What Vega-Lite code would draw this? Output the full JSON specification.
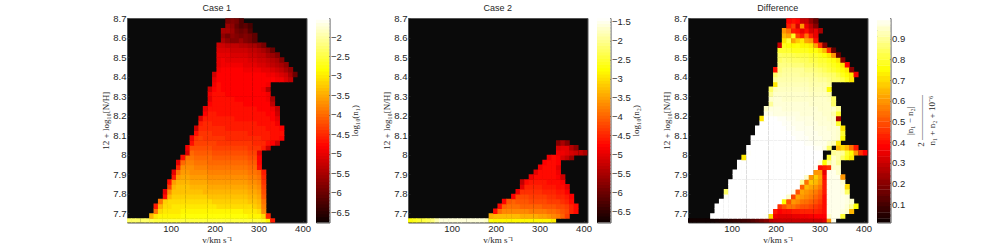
{"$schema":"https://vega.github.io/schema/vega-lite/v6.json","background":"white","bounds":"flush","padding":{"left":101,"top":3,"right":0,"bottom":0},"spacing":9,"resolve":{"scale":{"color":"independent"}},"config":{"font":"Liberation Sans","view":{"stroke":"#555555"},"axis":{"grid":false,"labelFont":"Liberation Sans","labelFontSize":9.5,"labelColor":"#262626","tickColor":"#333333","domain":false,"tickSize":-2,"tickWidth":0.6,"labelPadding":3,"titleColor":"#262626","titleFont":"Liberation Serif","titleFontSize":9,"titleFontWeight":"normal","titlePadding":2},"title":{"font":"Liberation Sans","fontSize":9,"fontWeight":"normal","color":"#262626","offset":0,"dy":4,"anchor":"middle"}},
"datasets":{
"a":[
{"v":6,"z":7.66,"c":-2.3},{"v":16,"z":7.66,"c":-2.3},{"v":26,"z":7.66,"c":-2.3},{"v":37,"z":7.66,"c":-2.3},{"v":47,"z":7.66,"c":-2.3},{"v":57,"z":7.66,"c":-2.4},{"v":67,"z":7.66,"c":-2.5},{"v":77,"z":7.66,"c":-2.5},{"v":88,"z":7.66,"c":-2.5},{"v":98,"z":7.66,"c":-2.5},{"v":108,"z":7.66,"c":-2.5},{"v":118,"z":7.66,"c":-2.5},{"v":128,"z":7.66,"c":-2.5},{"v":139,"z":7.66,"c":-2.5},{"v":149,"z":7.66,"c":-2.5},{"v":159,"z":7.66,"c":-2.5},{"v":169,"z":7.66,"c":-2.5},{"v":179,"z":7.66,"c":-2.5},{"v":190,"z":7.66,"c":-2.5},{"v":200,"z":7.66,"c":-2.5},{"v":210,"z":7.66,"c":-2.5},{"v":220,"z":7.66,"c":-2.5},{"v":230,"z":7.66,"c":-2.5},{"v":241,"z":7.66,"c":-2.5},{"v":251,"z":7.66,"c":-2.5},{"v":261,"z":7.66,"c":-2.5},{"v":271,"z":7.66,"c":-2.5},{"v":281,"z":7.66,"c":-2.5},{"v":292,"z":7.66,"c":-2.5},{"v":302,"z":7.66,"c":-2.5},{"v":312,"z":7.66,"c":-2.6},{"v":322,"z":7.66,"c":-2.9},{"v":332,"z":7.66,"c":-4.6},
{"v":57,"z":7.685,"c":-3.4},{"v":67,"z":7.685,"c":-3},{"v":77,"z":7.685,"c":-2.9},{"v":88,"z":7.685,"c":-2.9},{"v":98,"z":7.685,"c":-2.9},{"v":108,"z":7.685,"c":-2.9},{"v":118,"z":7.685,"c":-2.9},{"v":128,"z":7.685,"c":-2.8},{"v":139,"z":7.685,"c":-2.8},{"v":149,"z":7.685,"c":-2.8},{"v":159,"z":7.685,"c":-2.8},{"v":169,"z":7.685,"c":-2.8},{"v":179,"z":7.685,"c":-2.8},{"v":190,"z":7.685,"c":-2.8},{"v":200,"z":7.685,"c":-2.8},{"v":210,"z":7.685,"c":-2.8},{"v":220,"z":7.685,"c":-2.8},{"v":230,"z":7.685,"c":-2.8},{"v":241,"z":7.685,"c":-2.8},{"v":251,"z":7.685,"c":-2.8},{"v":261,"z":7.685,"c":-2.8},{"v":271,"z":7.685,"c":-2.8},{"v":281,"z":7.685,"c":-2.9},{"v":292,"z":7.685,"c":-2.9},{"v":302,"z":7.685,"c":-2.9},{"v":312,"z":7.685,"c":-3.1},{"v":322,"z":7.685,"c":-4.5},
{"v":67,"z":7.71,"c":-3.9},{"v":77,"z":7.71,"c":-3.1},{"v":88,"z":7.71,"c":-3},{"v":98,"z":7.71,"c":-3},{"v":108,"z":7.71,"c":-3},{"v":118,"z":7.71,"c":-3},{"v":128,"z":7.71,"c":-2.9},{"v":139,"z":7.71,"c":-2.9},{"v":149,"z":7.71,"c":-2.9},{"v":159,"z":7.71,"c":-2.9},{"v":169,"z":7.71,"c":-2.9},{"v":179,"z":7.71,"c":-2.9},{"v":190,"z":7.71,"c":-2.9},{"v":200,"z":7.71,"c":-2.9},{"v":210,"z":7.71,"c":-2.9},{"v":220,"z":7.71,"c":-2.9},{"v":230,"z":7.71,"c":-2.9},{"v":241,"z":7.71,"c":-2.9},{"v":251,"z":7.71,"c":-2.9},{"v":261,"z":7.71,"c":-2.9},{"v":271,"z":7.71,"c":-3},{"v":281,"z":7.71,"c":-3},{"v":292,"z":7.71,"c":-3},{"v":302,"z":7.71,"c":-3.1},{"v":312,"z":7.71,"c":-3.7},
{"v":67,"z":7.735,"c":-4.6},{"v":77,"z":7.735,"c":-3.4},{"v":88,"z":7.735,"c":-3.1},{"v":98,"z":7.735,"c":-3.1},{"v":108,"z":7.735,"c":-3},{"v":118,"z":7.735,"c":-3},{"v":128,"z":7.735,"c":-3},{"v":139,"z":7.735,"c":-3},{"v":149,"z":7.735,"c":-3},{"v":159,"z":7.735,"c":-3},{"v":169,"z":7.735,"c":-3},{"v":179,"z":7.735,"c":-3},{"v":190,"z":7.735,"c":-3},{"v":200,"z":7.735,"c":-3},{"v":210,"z":7.735,"c":-3.1},{"v":220,"z":7.735,"c":-3.1},{"v":230,"z":7.735,"c":-3.1},{"v":241,"z":7.735,"c":-3.1},{"v":251,"z":7.735,"c":-3.1},{"v":261,"z":7.735,"c":-3.1},{"v":271,"z":7.735,"c":-3.1},{"v":281,"z":7.735,"c":-3.1},{"v":292,"z":7.735,"c":-3.2},{"v":302,"z":7.735,"c":-3.3},{"v":312,"z":7.735,"c":-3.8},
{"v":77,"z":7.76,"c":-3.9},{"v":88,"z":7.76,"c":-3.2},{"v":98,"z":7.76,"c":-3.1},{"v":108,"z":7.76,"c":-3.1},{"v":118,"z":7.76,"c":-3.1},{"v":128,"z":7.76,"c":-3.1},{"v":139,"z":7.76,"c":-3.1},{"v":149,"z":7.76,"c":-3.1},{"v":159,"z":7.76,"c":-3.1},{"v":169,"z":7.76,"c":-3.1},{"v":179,"z":7.76,"c":-3.1},{"v":190,"z":7.76,"c":-3.1},{"v":200,"z":7.76,"c":-3.2},{"v":210,"z":7.76,"c":-3.2},{"v":220,"z":7.76,"c":-3.2},{"v":230,"z":7.76,"c":-3.2},{"v":241,"z":7.76,"c":-3.2},{"v":251,"z":7.76,"c":-3.2},{"v":261,"z":7.76,"c":-3.2},{"v":271,"z":7.76,"c":-3.2},{"v":281,"z":7.76,"c":-3.3},{"v":292,"z":7.76,"c":-3.3},{"v":302,"z":7.76,"c":-3.4},{"v":312,"z":7.76,"c":-3.9},
{"v":88,"z":7.785,"c":-4.7},{"v":98,"z":7.785,"c":-3.4},{"v":108,"z":7.785,"c":-3.2},{"v":118,"z":7.785,"c":-3.2},{"v":128,"z":7.785,"c":-3.2},{"v":139,"z":7.785,"c":-3.2},{"v":149,"z":7.785,"c":-3.2},{"v":159,"z":7.785,"c":-3.2},{"v":169,"z":7.785,"c":-3.2},{"v":179,"z":7.785,"c":-3.2},{"v":190,"z":7.785,"c":-3.3},{"v":200,"z":7.785,"c":-3.3},{"v":210,"z":7.785,"c":-3.3},{"v":220,"z":7.785,"c":-3.3},{"v":230,"z":7.785,"c":-3.3},{"v":241,"z":7.785,"c":-3.3},{"v":251,"z":7.785,"c":-3.3},{"v":261,"z":7.785,"c":-3.3},{"v":271,"z":7.785,"c":-3.3},{"v":281,"z":7.785,"c":-3.4},{"v":292,"z":7.785,"c":-3.4},{"v":302,"z":7.785,"c":-3.5},{"v":312,"z":7.785,"c":-4.1},
{"v":88,"z":7.81,"c":-5},{"v":98,"z":7.81,"c":-3.7},{"v":108,"z":7.81,"c":-3.3},{"v":118,"z":7.81,"c":-3.3},{"v":128,"z":7.81,"c":-3.3},{"v":139,"z":7.81,"c":-3.3},{"v":149,"z":7.81,"c":-3.3},{"v":159,"z":7.81,"c":-3.3},{"v":169,"z":7.81,"c":-3.3},{"v":179,"z":7.81,"c":-3.4},{"v":190,"z":7.81,"c":-3.4},{"v":200,"z":7.81,"c":-3.4},{"v":210,"z":7.81,"c":-3.4},{"v":220,"z":7.81,"c":-3.4},{"v":230,"z":7.81,"c":-3.4},{"v":241,"z":7.81,"c":-3.4},{"v":251,"z":7.81,"c":-3.4},{"v":261,"z":7.81,"c":-3.4},{"v":271,"z":7.81,"c":-3.4},{"v":281,"z":7.81,"c":-3.5},{"v":292,"z":7.81,"c":-3.5},{"v":302,"z":7.81,"c":-3.6},{"v":312,"z":7.81,"c":-4.2},
{"v":98,"z":7.835,"c":-4.3},{"v":108,"z":7.835,"c":-3.4},{"v":118,"z":7.835,"c":-3.3},{"v":128,"z":7.835,"c":-3.3},{"v":139,"z":7.835,"c":-3.3},{"v":149,"z":7.835,"c":-3.4},{"v":159,"z":7.835,"c":-3.4},{"v":169,"z":7.835,"c":-3.4},{"v":179,"z":7.835,"c":-3.4},{"v":190,"z":7.835,"c":-3.5},{"v":200,"z":7.835,"c":-3.5},{"v":210,"z":7.835,"c":-3.5},{"v":220,"z":7.835,"c":-3.5},{"v":230,"z":7.835,"c":-3.5},{"v":241,"z":7.835,"c":-3.5},{"v":251,"z":7.835,"c":-3.5},{"v":261,"z":7.835,"c":-3.5},{"v":271,"z":7.835,"c":-3.5},{"v":281,"z":7.835,"c":-3.6},{"v":292,"z":7.835,"c":-3.6},{"v":302,"z":7.835,"c":-3.7},{"v":312,"z":7.835,"c":-4.3},
{"v":98,"z":7.86,"c":-4.7},{"v":108,"z":7.86,"c":-3.6},{"v":118,"z":7.86,"c":-3.4},{"v":128,"z":7.86,"c":-3.4},{"v":139,"z":7.86,"c":-3.4},{"v":149,"z":7.86,"c":-3.5},{"v":159,"z":7.86,"c":-3.5},{"v":169,"z":7.86,"c":-3.5},{"v":179,"z":7.86,"c":-3.5},{"v":190,"z":7.86,"c":-3.6},{"v":200,"z":7.86,"c":-3.6},{"v":210,"z":7.86,"c":-3.6},{"v":220,"z":7.86,"c":-3.6},{"v":230,"z":7.86,"c":-3.6},{"v":241,"z":7.86,"c":-3.6},{"v":251,"z":7.86,"c":-3.6},{"v":261,"z":7.86,"c":-3.6},{"v":271,"z":7.86,"c":-3.6},{"v":281,"z":7.86,"c":-3.7},{"v":292,"z":7.86,"c":-3.7},{"v":302,"z":7.86,"c":-3.8},{"v":312,"z":7.86,"c":-4.4},
{"v":108,"z":7.885,"c":-4.6},{"v":118,"z":7.885,"c":-3.6},{"v":128,"z":7.885,"c":-3.5},{"v":139,"z":7.885,"c":-3.5},{"v":149,"z":7.885,"c":-3.6},{"v":159,"z":7.885,"c":-3.6},{"v":169,"z":7.885,"c":-3.6},{"v":179,"z":7.885,"c":-3.6},{"v":190,"z":7.885,"c":-3.7},{"v":200,"z":7.885,"c":-3.7},{"v":210,"z":7.885,"c":-3.7},{"v":220,"z":7.885,"c":-3.7},{"v":230,"z":7.885,"c":-3.7},{"v":241,"z":7.885,"c":-3.7},{"v":251,"z":7.885,"c":-3.7},{"v":261,"z":7.885,"c":-3.7},{"v":271,"z":7.885,"c":-3.7},{"v":281,"z":7.885,"c":-3.8},{"v":292,"z":7.885,"c":-3.8},{"v":302,"z":7.885,"c":-3.9},{"v":312,"z":7.885,"c":-4.5},
{"v":108,"z":7.91,"c":-5},{"v":118,"z":7.91,"c":-3.9},{"v":128,"z":7.91,"c":-3.6},{"v":139,"z":7.91,"c":-3.6},{"v":149,"z":7.91,"c":-3.7},{"v":159,"z":7.91,"c":-3.7},{"v":169,"z":7.91,"c":-3.7},{"v":179,"z":7.91,"c":-3.7},{"v":190,"z":7.91,"c":-3.8},{"v":200,"z":7.91,"c":-3.8},{"v":210,"z":7.91,"c":-3.8},{"v":220,"z":7.91,"c":-3.8},{"v":230,"z":7.91,"c":-3.8},{"v":241,"z":7.91,"c":-3.8},{"v":251,"z":7.91,"c":-3.8},{"v":261,"z":7.91,"c":-3.8},{"v":271,"z":7.91,"c":-3.8},{"v":281,"z":7.91,"c":-3.9},{"v":292,"z":7.91,"c":-3.9},{"v":302,"z":7.91,"c":-4},{"v":312,"z":7.91,"c":-4.6},
{"v":118,"z":7.935,"c":-4.5},{"v":128,"z":7.935,"c":-3.7},{"v":139,"z":7.935,"c":-3.7},{"v":149,"z":7.935,"c":-3.7},{"v":159,"z":7.935,"c":-3.8},{"v":169,"z":7.935,"c":-3.8},{"v":179,"z":7.935,"c":-3.8},{"v":190,"z":7.935,"c":-3.9},{"v":200,"z":7.935,"c":-3.9},{"v":210,"z":7.935,"c":-3.9},{"v":220,"z":7.935,"c":-3.9},{"v":230,"z":7.935,"c":-3.9},{"v":241,"z":7.935,"c":-3.9},{"v":251,"z":7.935,"c":-3.9},{"v":261,"z":7.935,"c":-3.9},{"v":271,"z":7.935,"c":-3.9},{"v":281,"z":7.935,"c":-4},{"v":292,"z":7.935,"c":-4},{"v":302,"z":7.935,"c":-4.7},
{"v":118,"z":7.96,"c":-5},{"v":128,"z":7.96,"c":-4},{"v":139,"z":7.96,"c":-3.8},{"v":149,"z":7.96,"c":-3.8},{"v":159,"z":7.96,"c":-3.9},{"v":169,"z":7.96,"c":-3.9},{"v":179,"z":7.96,"c":-3.9},{"v":190,"z":7.96,"c":-4},{"v":200,"z":7.96,"c":-4},{"v":210,"z":7.96,"c":-4},{"v":220,"z":7.96,"c":-4},{"v":230,"z":7.96,"c":-4},{"v":241,"z":7.96,"c":-4},{"v":251,"z":7.96,"c":-4},{"v":261,"z":7.96,"c":-4},{"v":271,"z":7.96,"c":-4},{"v":281,"z":7.96,"c":-4.1},{"v":292,"z":7.96,"c":-4.1},{"v":302,"z":7.96,"c":-4.8},
{"v":128,"z":7.985,"c":-4.7},{"v":139,"z":7.985,"c":-3.9},{"v":149,"z":7.985,"c":-3.9},{"v":159,"z":7.985,"c":-4},{"v":169,"z":7.985,"c":-4},{"v":179,"z":7.985,"c":-4},{"v":190,"z":7.985,"c":-4},{"v":200,"z":7.985,"c":-4.1},{"v":210,"z":7.985,"c":-4.1},{"v":220,"z":7.985,"c":-4.1},{"v":230,"z":7.985,"c":-4.1},{"v":241,"z":7.985,"c":-4.1},{"v":251,"z":7.985,"c":-4.1},{"v":261,"z":7.985,"c":-4.1},{"v":271,"z":7.985,"c":-4.1},{"v":281,"z":7.985,"c":-4.2},{"v":292,"z":7.985,"c":-4.2},{"v":302,"z":7.985,"c":-4.8},
{"v":139,"z":8.01,"c":-5.1},{"v":149,"z":8.01,"c":-4},{"v":159,"z":8.01,"c":-4.1},{"v":169,"z":8.01,"c":-4.1},{"v":179,"z":8.01,"c":-4.1},{"v":190,"z":8.01,"c":-4.1},{"v":200,"z":8.01,"c":-4.2},{"v":210,"z":8.01,"c":-4.2},{"v":220,"z":8.01,"c":-4.2},{"v":230,"z":8.01,"c":-4.2},{"v":241,"z":8.01,"c":-4.2},{"v":251,"z":8.01,"c":-4.2},{"v":261,"z":8.01,"c":-4.2},{"v":271,"z":8.01,"c":-4.2},{"v":281,"z":8.01,"c":-4.3},{"v":292,"z":8.01,"c":-4.3},{"v":302,"z":8.01,"c":-5},
{"v":139,"z":8.035,"c":-4.9},{"v":149,"z":8.035,"c":-4.2},{"v":159,"z":8.035,"c":-4.2},{"v":169,"z":8.035,"c":-4.2},{"v":179,"z":8.035,"c":-4.2},{"v":190,"z":8.035,"c":-4.2},{"v":200,"z":8.035,"c":-4.3},{"v":210,"z":8.035,"c":-4.3},{"v":220,"z":8.035,"c":-4.3},{"v":230,"z":8.035,"c":-4.3},{"v":241,"z":8.035,"c":-4.3},{"v":251,"z":8.035,"c":-4.3},{"v":261,"z":8.035,"c":-4.3},{"v":271,"z":8.035,"c":-4.3},{"v":281,"z":8.035,"c":-4.4},{"v":292,"z":8.035,"c":-4.4},{"v":302,"z":8.035,"c":-4.4},{"v":312,"z":8.035,"c":-4.6},{"v":322,"z":8.035,"c":-5.2},
{"v":149,"z":8.06,"c":-4.7},{"v":159,"z":8.06,"c":-4.3},{"v":169,"z":8.06,"c":-4.3},{"v":179,"z":8.06,"c":-4.3},{"v":190,"z":8.06,"c":-4.3},{"v":200,"z":8.06,"c":-4.3},{"v":210,"z":8.06,"c":-4.4},{"v":220,"z":8.06,"c":-4.4},{"v":230,"z":8.06,"c":-4.4},{"v":241,"z":8.06,"c":-4.4},{"v":251,"z":8.06,"c":-4.4},{"v":261,"z":8.06,"c":-4.4},{"v":271,"z":8.06,"c":-4.4},{"v":281,"z":8.06,"c":-4.4},{"v":292,"z":8.06,"c":-4.5},{"v":302,"z":8.06,"c":-4.5},{"v":312,"z":8.06,"c":-4.5},{"v":322,"z":8.06,"c":-4.7},{"v":332,"z":8.06,"c":-4.8},{"v":343,"z":8.06,"c":-5.2},
{"v":149,"z":8.085,"c":-4.9},{"v":159,"z":8.085,"c":-4.4},{"v":169,"z":8.085,"c":-4.3},{"v":179,"z":8.085,"c":-4.4},{"v":190,"z":8.085,"c":-4.4},{"v":200,"z":8.085,"c":-4.4},{"v":210,"z":8.085,"c":-4.4},{"v":220,"z":8.085,"c":-4.4},{"v":230,"z":8.085,"c":-4.5},{"v":241,"z":8.085,"c":-4.5},{"v":251,"z":8.085,"c":-4.5},{"v":261,"z":8.085,"c":-4.5},{"v":271,"z":8.085,"c":-4.5},{"v":281,"z":8.085,"c":-4.5},{"v":292,"z":8.085,"c":-4.5},{"v":302,"z":8.085,"c":-4.5},{"v":312,"z":8.085,"c":-4.6},{"v":322,"z":8.085,"c":-4.6},{"v":332,"z":8.085,"c":-4.7},{"v":343,"z":8.085,"c":-4.7},{"v":353,"z":8.085,"c":-4.8},
{"v":159,"z":8.11,"c":-4.7},{"v":169,"z":8.11,"c":-4.4},{"v":179,"z":8.11,"c":-4.4},{"v":190,"z":8.11,"c":-4.4},{"v":200,"z":8.11,"c":-4.5},{"v":210,"z":8.11,"c":-4.5},{"v":220,"z":8.11,"c":-4.5},{"v":230,"z":8.11,"c":-4.5},{"v":241,"z":8.11,"c":-4.5},{"v":251,"z":8.11,"c":-4.5},{"v":261,"z":8.11,"c":-4.5},{"v":271,"z":8.11,"c":-4.5},{"v":281,"z":8.11,"c":-4.6},{"v":292,"z":8.11,"c":-4.6},{"v":302,"z":8.11,"c":-4.6},{"v":312,"z":8.11,"c":-4.6},{"v":322,"z":8.11,"c":-4.6},{"v":332,"z":8.11,"c":-4.7},{"v":343,"z":8.11,"c":-4.7},{"v":353,"z":8.11,"c":-4.7},
{"v":159,"z":8.135,"c":-5.2},{"v":169,"z":8.135,"c":-4.5},{"v":179,"z":8.135,"c":-4.5},{"v":190,"z":8.135,"c":-4.5},{"v":200,"z":8.135,"c":-4.5},{"v":210,"z":8.135,"c":-4.5},{"v":220,"z":8.135,"c":-4.5},{"v":230,"z":8.135,"c":-4.6},{"v":241,"z":8.135,"c":-4.6},{"v":251,"z":8.135,"c":-4.6},{"v":261,"z":8.135,"c":-4.6},{"v":271,"z":8.135,"c":-4.6},{"v":281,"z":8.135,"c":-4.6},{"v":292,"z":8.135,"c":-4.6},{"v":302,"z":8.135,"c":-4.6},{"v":312,"z":8.135,"c":-4.6},{"v":322,"z":8.135,"c":-4.7},{"v":332,"z":8.135,"c":-4.7},{"v":343,"z":8.135,"c":-4.7},{"v":353,"z":8.135,"c":-4.8},
{"v":169,"z":8.16,"c":-4.6},{"v":179,"z":8.16,"c":-4.5},{"v":190,"z":8.16,"c":-4.5},{"v":200,"z":8.16,"c":-4.6},{"v":210,"z":8.16,"c":-4.6},{"v":220,"z":8.16,"c":-4.6},{"v":230,"z":8.16,"c":-4.6},{"v":241,"z":8.16,"c":-4.6},{"v":251,"z":8.16,"c":-4.6},{"v":261,"z":8.16,"c":-4.6},{"v":271,"z":8.16,"c":-4.6},{"v":281,"z":8.16,"c":-4.6},{"v":292,"z":8.16,"c":-4.6},{"v":302,"z":8.16,"c":-4.7},{"v":312,"z":8.16,"c":-4.7},{"v":322,"z":8.16,"c":-4.7},{"v":332,"z":8.16,"c":-4.7},{"v":343,"z":8.16,"c":-4.9},
{"v":169,"z":8.185,"c":-5.1},{"v":179,"z":8.185,"c":-4.6},{"v":190,"z":8.185,"c":-4.6},{"v":200,"z":8.185,"c":-4.6},{"v":210,"z":8.185,"c":-4.6},{"v":220,"z":8.185,"c":-4.6},{"v":230,"z":8.185,"c":-4.6},{"v":241,"z":8.185,"c":-4.6},{"v":251,"z":8.185,"c":-4.7},{"v":261,"z":8.185,"c":-4.7},{"v":271,"z":8.185,"c":-4.7},{"v":281,"z":8.185,"c":-4.7},{"v":292,"z":8.185,"c":-4.7},{"v":302,"z":8.185,"c":-4.7},{"v":312,"z":8.185,"c":-4.7},{"v":322,"z":8.185,"c":-4.7},{"v":332,"z":8.185,"c":-4.8},{"v":343,"z":8.185,"c":-5},
{"v":179,"z":8.21,"c":-4.8},{"v":190,"z":8.21,"c":-4.6},{"v":200,"z":8.21,"c":-4.6},{"v":210,"z":8.21,"c":-4.7},{"v":220,"z":8.21,"c":-4.7},{"v":230,"z":8.21,"c":-4.7},{"v":241,"z":8.21,"c":-4.7},{"v":251,"z":8.21,"c":-4.7},{"v":261,"z":8.21,"c":-4.7},{"v":271,"z":8.21,"c":-4.7},{"v":281,"z":8.21,"c":-4.7},{"v":292,"z":8.21,"c":-4.7},{"v":302,"z":8.21,"c":-4.7},{"v":312,"z":8.21,"c":-4.7},{"v":322,"z":8.21,"c":-4.8},{"v":332,"z":8.21,"c":-4.8},{"v":343,"z":8.21,"c":-5.2},
{"v":179,"z":8.235,"c":-5},{"v":190,"z":8.235,"c":-4.7},{"v":200,"z":8.235,"c":-4.7},{"v":210,"z":8.235,"c":-4.7},{"v":220,"z":8.235,"c":-4.7},{"v":230,"z":8.235,"c":-4.7},{"v":241,"z":8.235,"c":-4.7},{"v":251,"z":8.235,"c":-4.7},{"v":261,"z":8.235,"c":-4.7},{"v":271,"z":8.235,"c":-4.7},{"v":281,"z":8.235,"c":-4.7},{"v":292,"z":8.235,"c":-4.7},{"v":302,"z":8.235,"c":-4.8},{"v":312,"z":8.235,"c":-4.8},{"v":322,"z":8.235,"c":-4.8},{"v":332,"z":8.235,"c":-4.9},{"v":343,"z":8.235,"c":-5.3},
{"v":190,"z":8.26,"c":-4.8},{"v":200,"z":8.26,"c":-4.7},{"v":210,"z":8.26,"c":-4.7},{"v":220,"z":8.26,"c":-4.7},{"v":230,"z":8.26,"c":-4.7},{"v":241,"z":8.26,"c":-4.7},{"v":251,"z":8.26,"c":-4.7},{"v":261,"z":8.26,"c":-4.7},{"v":271,"z":8.26,"c":-4.8},{"v":281,"z":8.26,"c":-4.8},{"v":292,"z":8.26,"c":-4.8},{"v":302,"z":8.26,"c":-4.8},{"v":312,"z":8.26,"c":-4.8},{"v":322,"z":8.26,"c":-4.8},{"v":332,"z":8.26,"c":-5.3},
{"v":190,"z":8.285,"c":-5},{"v":200,"z":8.285,"c":-4.7},{"v":210,"z":8.285,"c":-4.7},{"v":220,"z":8.285,"c":-4.7},{"v":230,"z":8.285,"c":-4.7},{"v":241,"z":8.285,"c":-4.7},{"v":251,"z":8.285,"c":-4.8},{"v":261,"z":8.285,"c":-4.8},{"v":271,"z":8.285,"c":-4.8},{"v":281,"z":8.285,"c":-4.8},{"v":292,"z":8.285,"c":-4.8},{"v":302,"z":8.285,"c":-4.8},{"v":312,"z":8.285,"c":-4.8},{"v":322,"z":8.285,"c":-4.9},{"v":332,"z":8.285,"c":-5.5},
{"v":190,"z":8.31,"c":-4.9},{"v":200,"z":8.31,"c":-4.7},{"v":210,"z":8.31,"c":-4.7},{"v":220,"z":8.31,"c":-4.7},{"v":230,"z":8.31,"c":-4.8},{"v":241,"z":8.31,"c":-4.8},{"v":251,"z":8.31,"c":-4.8},{"v":261,"z":8.31,"c":-4.8},{"v":271,"z":8.31,"c":-4.8},{"v":281,"z":8.31,"c":-4.8},{"v":292,"z":8.31,"c":-4.8},{"v":302,"z":8.31,"c":-4.8},{"v":312,"z":8.31,"c":-4.8},{"v":322,"z":8.31,"c":-4.9},
{"v":190,"z":8.335,"c":-5.2},{"v":200,"z":8.335,"c":-4.8},{"v":210,"z":8.335,"c":-4.7},{"v":220,"z":8.335,"c":-4.8},{"v":230,"z":8.335,"c":-4.8},{"v":241,"z":8.335,"c":-4.8},{"v":251,"z":8.335,"c":-4.8},{"v":261,"z":8.335,"c":-4.8},{"v":271,"z":8.335,"c":-4.8},{"v":281,"z":8.335,"c":-4.8},{"v":292,"z":8.335,"c":-4.8},{"v":302,"z":8.335,"c":-4.8},{"v":312,"z":8.335,"c":-4.9},{"v":322,"z":8.335,"c":-5.4},
{"v":200,"z":8.36,"c":-4.9},{"v":210,"z":8.36,"c":-4.7},{"v":220,"z":8.36,"c":-4.8},{"v":230,"z":8.36,"c":-4.8},{"v":241,"z":8.36,"c":-4.8},{"v":251,"z":8.36,"c":-4.8},{"v":261,"z":8.36,"c":-4.8},{"v":271,"z":8.36,"c":-4.8},{"v":281,"z":8.36,"c":-4.8},{"v":292,"z":8.36,"c":-4.8},{"v":302,"z":8.36,"c":-4.8},{"v":312,"z":8.36,"c":-4.8},{"v":322,"z":8.36,"c":-4.9},
{"v":200,"z":8.385,"c":-5},{"v":210,"z":8.385,"c":-4.8},{"v":220,"z":8.385,"c":-4.8},{"v":230,"z":8.385,"c":-4.8},{"v":241,"z":8.385,"c":-4.8},{"v":251,"z":8.385,"c":-4.8},{"v":261,"z":8.385,"c":-4.8},{"v":271,"z":8.385,"c":-4.8},{"v":281,"z":8.385,"c":-4.8},{"v":292,"z":8.385,"c":-4.8},{"v":302,"z":8.385,"c":-4.8},{"v":312,"z":8.385,"c":-4.8},{"v":322,"z":8.385,"c":-4.8},{"v":332,"z":8.385,"c":-4.8},{"v":343,"z":8.385,"c":-4.9},{"v":353,"z":8.385,"c":-4.9},{"v":363,"z":8.385,"c":-5.1},{"v":373,"z":8.385,"c":-5.3},
{"v":200,"z":8.41,"c":-5.2},{"v":210,"z":8.41,"c":-4.8},{"v":220,"z":8.41,"c":-4.8},{"v":230,"z":8.41,"c":-4.8},{"v":241,"z":8.41,"c":-4.8},{"v":251,"z":8.41,"c":-4.8},{"v":261,"z":8.41,"c":-4.8},{"v":271,"z":8.41,"c":-4.8},{"v":281,"z":8.41,"c":-4.8},{"v":292,"z":8.41,"c":-4.8},{"v":302,"z":8.41,"c":-4.8},{"v":312,"z":8.41,"c":-4.8},{"v":322,"z":8.41,"c":-4.9},{"v":332,"z":8.41,"c":-4.9},{"v":343,"z":8.41,"c":-5},{"v":353,"z":8.41,"c":-5.1},{"v":363,"z":8.41,"c":-5.2},{"v":373,"z":8.41,"c":-5.5},{"v":383,"z":8.41,"c":-6},
{"v":210,"z":8.435,"c":-4.9},{"v":220,"z":8.435,"c":-4.8},{"v":230,"z":8.435,"c":-4.8},{"v":241,"z":8.435,"c":-4.8},{"v":251,"z":8.435,"c":-4.8},{"v":261,"z":8.435,"c":-4.8},{"v":271,"z":8.435,"c":-4.9},{"v":281,"z":8.435,"c":-4.9},{"v":292,"z":8.435,"c":-4.9},{"v":302,"z":8.435,"c":-4.9},{"v":312,"z":8.435,"c":-5},{"v":322,"z":8.435,"c":-5},{"v":332,"z":8.435,"c":-5.1},{"v":343,"z":8.435,"c":-5.2},{"v":353,"z":8.435,"c":-5.3},{"v":363,"z":8.435,"c":-5.5},{"v":373,"z":8.435,"c":-5.7},
{"v":210,"z":8.46,"c":-5},{"v":220,"z":8.46,"c":-4.9},{"v":230,"z":8.46,"c":-4.9},{"v":241,"z":8.46,"c":-4.9},{"v":251,"z":8.46,"c":-4.9},{"v":261,"z":8.46,"c":-4.9},{"v":271,"z":8.46,"c":-5},{"v":281,"z":8.46,"c":-5},{"v":292,"z":8.46,"c":-5},{"v":302,"z":8.46,"c":-5.1},{"v":312,"z":8.46,"c":-5.1},{"v":322,"z":8.46,"c":-5.2},{"v":332,"z":8.46,"c":-5.3},{"v":343,"z":8.46,"c":-5.4},{"v":353,"z":8.46,"c":-5.5},{"v":363,"z":8.46,"c":-5.7},
{"v":210,"z":8.485,"c":-5},{"v":220,"z":8.485,"c":-4.9},{"v":230,"z":8.485,"c":-5},{"v":241,"z":8.485,"c":-5},{"v":251,"z":8.485,"c":-5},{"v":261,"z":8.485,"c":-5},{"v":271,"z":8.485,"c":-5},{"v":281,"z":8.485,"c":-5.1},{"v":292,"z":8.485,"c":-5.1},{"v":302,"z":8.485,"c":-5.2},{"v":312,"z":8.485,"c":-5.2},{"v":322,"z":8.485,"c":-5.3},{"v":332,"z":8.485,"c":-5.4},{"v":343,"z":8.485,"c":-5.5},{"v":353,"z":8.485,"c":-5.8},
{"v":210,"z":8.51,"c":-5},{"v":220,"z":8.51,"c":-5},{"v":230,"z":8.51,"c":-5},{"v":241,"z":8.51,"c":-5.1},{"v":251,"z":8.51,"c":-5.1},{"v":261,"z":8.51,"c":-5.1},{"v":271,"z":8.51,"c":-5.1},{"v":281,"z":8.51,"c":-5.2},{"v":292,"z":8.51,"c":-5.2},{"v":302,"z":8.51,"c":-5.3},{"v":312,"z":8.51,"c":-5.3},{"v":322,"z":8.51,"c":-5.5},{"v":332,"z":8.51,"c":-5.6},{"v":343,"z":8.51,"c":-5.8},
{"v":210,"z":8.535,"c":-5.1},{"v":220,"z":8.535,"c":-5.1},{"v":230,"z":8.535,"c":-5.1},{"v":241,"z":8.535,"c":-5.2},{"v":251,"z":8.535,"c":-5.2},{"v":261,"z":8.535,"c":-5.2},{"v":271,"z":8.535,"c":-5.2},{"v":281,"z":8.535,"c":-5.3},{"v":292,"z":8.535,"c":-5.3},{"v":302,"z":8.535,"c":-5.4},{"v":312,"z":8.535,"c":-5.5},{"v":322,"z":8.535,"c":-5.7},{"v":332,"z":8.535,"c":-6},
{"v":210,"z":8.56,"c":-5.2},{"v":220,"z":8.56,"c":-5.2},{"v":230,"z":8.56,"c":-5.3},{"v":241,"z":8.56,"c":-5.3},{"v":251,"z":8.56,"c":-5.3},{"v":261,"z":8.56,"c":-5.4},{"v":271,"z":8.56,"c":-5.4},{"v":281,"z":8.56,"c":-5.5},{"v":292,"z":8.56,"c":-5.5},{"v":302,"z":8.56,"c":-5.7},{"v":312,"z":8.56,"c":-5.9},
{"v":220,"z":8.585,"c":-5.5},{"v":230,"z":8.585,"c":-5.7},{"v":241,"z":8.585,"c":-5.8},{"v":251,"z":8.585,"c":-5.8},{"v":261,"z":8.585,"c":-5.6},{"v":271,"z":8.585,"c":-5.8},{"v":281,"z":8.585,"c":-5.9},{"v":292,"z":8.585,"c":-6.1},
{"v":220,"z":8.61,"c":-5.7},{"v":230,"z":8.61,"c":-5.9},{"v":241,"z":8.61,"c":-5.7},{"v":251,"z":8.61,"c":-5.8},{"v":261,"z":8.61,"c":-5.9},{"v":271,"z":8.61,"c":-5.8},{"v":281,"z":8.61,"c":-5.9},{"v":292,"z":8.61,"c":-6.1},
{"v":220,"z":8.635,"c":-5.5},{"v":230,"z":8.635,"c":-5.5},{"v":241,"z":8.635,"c":-5.6},{"v":251,"z":8.635,"c":-5.9},{"v":261,"z":8.635,"c":-6},{"v":271,"z":8.635,"c":-5.9},{"v":281,"z":8.635,"c":-6.2},
{"v":230,"z":8.66,"c":-5.6},{"v":241,"z":8.66,"c":-5.7},{"v":251,"z":8.66,"c":-6},{"v":261,"z":8.66,"c":-6.2},{"v":271,"z":8.66,"c":-6.1},{"v":281,"z":8.66,"c":-6.3},
{"v":230,"z":8.685,"c":-5.9},{"v":241,"z":8.685,"c":-5.8},{"v":251,"z":8.685,"c":-5.9},{"v":261,"z":8.685,"c":-6.2}
],
"b":[
{"v":6,"z":7.66,"c":-2.7},{"v":16,"z":7.66,"c":-2.6},{"v":26,"z":7.66,"c":-2.5},{"v":37,"z":7.66,"c":-2.4},{"v":47,"z":7.66,"c":-2.3},{"v":57,"z":7.66,"c":-2.1},{"v":67,"z":7.66,"c":-1.8},{"v":77,"z":7.66,"c":-1.6},{"v":88,"z":7.66,"c":-1.6},{"v":98,"z":7.66,"c":-1.6},{"v":108,"z":7.66,"c":-1.6},{"v":118,"z":7.66,"c":-1.6},{"v":128,"z":7.66,"c":-1.6},{"v":139,"z":7.66,"c":-1.6},{"v":149,"z":7.66,"c":-1.6},{"v":159,"z":7.66,"c":-1.6},{"v":169,"z":7.66,"c":-1.6},{"v":179,"z":7.66,"c":-1.7},{"v":190,"z":7.66,"c":-2.7},{"v":200,"z":7.66,"c":-2.8},{"v":210,"z":7.66,"c":-2.8},{"v":220,"z":7.66,"c":-2.8},{"v":230,"z":7.66,"c":-2.8},{"v":241,"z":7.66,"c":-2.8},{"v":251,"z":7.66,"c":-2.8},{"v":261,"z":7.66,"c":-2.8},{"v":271,"z":7.66,"c":-2.8},{"v":281,"z":7.66,"c":-2.8},{"v":292,"z":7.66,"c":-2.8},{"v":302,"z":7.66,"c":-2.8},{"v":312,"z":7.66,"c":-2.8},{"v":322,"z":7.66,"c":-2.8},{"v":332,"z":7.66,"c":-2.9},
{"v":190,"z":7.685,"c":-3.4},{"v":200,"z":7.685,"c":-3.3},{"v":210,"z":7.685,"c":-3.3},{"v":220,"z":7.685,"c":-3.3},{"v":230,"z":7.685,"c":-3.3},{"v":241,"z":7.685,"c":-3.3},{"v":251,"z":7.685,"c":-3.3},{"v":261,"z":7.685,"c":-3.4},{"v":271,"z":7.685,"c":-3.4},{"v":281,"z":7.685,"c":-3.4},{"v":292,"z":7.685,"c":-3.4},{"v":302,"z":7.685,"c":-3.5},{"v":312,"z":7.685,"c":-3.5},{"v":322,"z":7.685,"c":-3.6},{"v":332,"z":7.685,"c":-3.7},{"v":343,"z":7.685,"c":-3.8},{"v":353,"z":7.685,"c":-4},{"v":363,"z":7.685,"c":-4.3},
{"v":200,"z":7.71,"c":-4.7},{"v":210,"z":7.71,"c":-3.9},{"v":220,"z":7.71,"c":-3.7},{"v":230,"z":7.71,"c":-3.7},{"v":241,"z":7.71,"c":-3.7},{"v":251,"z":7.71,"c":-3.7},{"v":261,"z":7.71,"c":-3.7},{"v":271,"z":7.71,"c":-3.7},{"v":281,"z":7.71,"c":-3.8},{"v":292,"z":7.71,"c":-3.8},{"v":302,"z":7.71,"c":-3.8},{"v":312,"z":7.71,"c":-3.8},{"v":322,"z":7.71,"c":-3.9},{"v":332,"z":7.71,"c":-3.9},{"v":343,"z":7.71,"c":-4},{"v":353,"z":7.71,"c":-4.1},{"v":363,"z":7.71,"c":-4.2},{"v":373,"z":7.71,"c":-4.5},{"v":383,"z":7.71,"c":-4.7},
{"v":210,"z":7.735,"c":-4.7},{"v":220,"z":7.735,"c":-4},{"v":230,"z":7.735,"c":-3.9},{"v":241,"z":7.735,"c":-3.9},{"v":251,"z":7.735,"c":-3.9},{"v":261,"z":7.735,"c":-4},{"v":271,"z":7.735,"c":-4},{"v":281,"z":7.735,"c":-4},{"v":292,"z":7.735,"c":-4},{"v":302,"z":7.735,"c":-4},{"v":312,"z":7.735,"c":-4.1},{"v":322,"z":7.735,"c":-4.1},{"v":332,"z":7.735,"c":-4.1},{"v":343,"z":7.735,"c":-4.2},{"v":353,"z":7.735,"c":-4.2},{"v":363,"z":7.735,"c":-4.3},{"v":373,"z":7.735,"c":-4.5},{"v":383,"z":7.735,"c":-4.7},
{"v":220,"z":7.76,"c":-4.8},{"v":230,"z":7.76,"c":-4.1},{"v":241,"z":7.76,"c":-4},{"v":251,"z":7.76,"c":-4.1},{"v":261,"z":7.76,"c":-4.1},{"v":271,"z":7.76,"c":-4.1},{"v":281,"z":7.76,"c":-4.2},{"v":292,"z":7.76,"c":-4.2},{"v":302,"z":7.76,"c":-4.2},{"v":312,"z":7.76,"c":-4.2},{"v":322,"z":7.76,"c":-4.3},{"v":332,"z":7.76,"c":-4.3},{"v":343,"z":7.76,"c":-4.3},{"v":353,"z":7.76,"c":-4.4},{"v":363,"z":7.76,"c":-4.5},{"v":373,"z":7.76,"c":-4.7},
{"v":241,"z":7.785,"c":-4.8},{"v":251,"z":7.785,"c":-4.2},{"v":261,"z":7.785,"c":-4.2},{"v":271,"z":7.785,"c":-4.2},{"v":281,"z":7.785,"c":-4.3},{"v":292,"z":7.785,"c":-4.3},{"v":302,"z":7.785,"c":-4.3},{"v":312,"z":7.785,"c":-4.3},{"v":322,"z":7.785,"c":-4.4},{"v":332,"z":7.785,"c":-4.4},{"v":343,"z":7.785,"c":-4.5},{"v":353,"z":7.785,"c":-4.5},{"v":363,"z":7.785,"c":-4.6},{"v":373,"z":7.785,"c":-4.8},
{"v":251,"z":7.81,"c":-4.9},{"v":261,"z":7.81,"c":-4.4},{"v":271,"z":7.81,"c":-4.4},{"v":281,"z":7.81,"c":-4.4},{"v":292,"z":7.81,"c":-4.4},{"v":302,"z":7.81,"c":-4.4},{"v":312,"z":7.81,"c":-4.5},{"v":322,"z":7.81,"c":-4.5},{"v":332,"z":7.81,"c":-4.5},{"v":343,"z":7.81,"c":-4.6},{"v":353,"z":7.81,"c":-4.6},{"v":363,"z":7.81,"c":-4.8},
{"v":261,"z":7.835,"c":-5},{"v":271,"z":7.835,"c":-4.5},{"v":281,"z":7.835,"c":-4.5},{"v":292,"z":7.835,"c":-4.5},{"v":302,"z":7.835,"c":-4.5},{"v":312,"z":7.835,"c":-4.6},{"v":322,"z":7.835,"c":-4.6},{"v":332,"z":7.835,"c":-4.6},{"v":343,"z":7.835,"c":-4.7},{"v":353,"z":7.835,"c":-4.7},{"v":363,"z":7.835,"c":-5},
{"v":261,"z":7.86,"c":-5.3},{"v":271,"z":7.86,"c":-4.7},{"v":281,"z":7.86,"c":-4.6},{"v":292,"z":7.86,"c":-4.6},{"v":302,"z":7.86,"c":-4.6},{"v":312,"z":7.86,"c":-4.6},{"v":322,"z":7.86,"c":-4.7},{"v":332,"z":7.86,"c":-4.7},{"v":343,"z":7.86,"c":-4.7},{"v":353,"z":7.86,"c":-4.8},
{"v":281,"z":7.885,"c":-4.9},{"v":292,"z":7.885,"c":-4.7},{"v":302,"z":7.885,"c":-4.7},{"v":312,"z":7.885,"c":-4.7},{"v":322,"z":7.885,"c":-4.7},{"v":332,"z":7.885,"c":-4.7},{"v":343,"z":7.885,"c":-4.8},{"v":353,"z":7.885,"c":-5.2},
{"v":292,"z":7.91,"c":-5},{"v":302,"z":7.91,"c":-4.7},{"v":312,"z":7.91,"c":-4.7},{"v":322,"z":7.91,"c":-4.7},{"v":332,"z":7.91,"c":-4.7},{"v":343,"z":7.91,"c":-4.9},
{"v":302,"z":7.935,"c":-4.9},{"v":312,"z":7.935,"c":-4.7},{"v":322,"z":7.935,"c":-4.7},{"v":332,"z":7.935,"c":-4.7},{"v":343,"z":7.935,"c":-5},
{"v":312,"z":7.96,"c":-4.8},{"v":322,"z":7.96,"c":-4.7},{"v":332,"z":7.96,"c":-4.7},{"v":343,"z":7.96,"c":-4.8},
{"v":322,"z":7.985,"c":-4.9},{"v":332,"z":7.985,"c":-4.7},{"v":343,"z":7.985,"c":-4.8},{"v":353,"z":7.985,"c":-5.1},{"v":363,"z":7.985,"c":-5.3},{"v":373,"z":7.985,"c":-5.6},
{"v":343,"z":8.01,"c":-4.9},{"v":353,"z":8.01,"c":-4.9},{"v":363,"z":8.01,"c":-5},{"v":373,"z":8.01,"c":-5.1},{"v":383,"z":8.01,"c":-5.2},{"v":394,"z":8.01,"c":-5.3},{"v":404,"z":8.01,"c":-5.5},
{"v":343,"z":8.035,"c":-5.1},{"v":353,"z":8.035,"c":-5},{"v":363,"z":8.035,"c":-5},{"v":373,"z":8.035,"c":-5.4},{"v":383,"z":8.035,"c":-5.7},
{"v":343,"z":8.06,"c":-5.8},{"v":353,"z":8.06,"c":-5.5},{"v":363,"z":8.06,"c":-5.8}
],
"d":[
{"v":6,"z":7.66,"c":0.02},{"v":16,"z":7.66,"c":0.02},{"v":26,"z":7.66,"c":0.02},{"v":37,"z":7.66,"c":0.02},{"v":47,"z":7.66,"c":0.02},{"v":57,"z":7.66,"c":0.02},{"v":67,"z":7.66,"c":0.03},{"v":77,"z":7.66,"c":0.04},{"v":88,"z":7.66,"c":0.05},{"v":98,"z":7.66,"c":0.06},{"v":108,"z":7.66,"c":0.07},{"v":118,"z":7.66,"c":0.08},{"v":128,"z":7.66,"c":0.09},{"v":139,"z":7.66,"c":0.1},{"v":149,"z":7.66,"c":0.12},{"v":159,"z":7.66,"c":0.14},{"v":169,"z":7.66,"c":0.17},{"v":179,"z":7.66,"c":0.2},{"v":190,"z":7.66,"c":0.27},{"v":200,"z":7.66,"c":0.29},{"v":210,"z":7.66,"c":0.3},{"v":220,"z":7.66,"c":0.3},{"v":230,"z":7.66,"c":0.3},{"v":241,"z":7.66,"c":0.3},{"v":251,"z":7.66,"c":0.3},{"v":261,"z":7.66,"c":0.3},{"v":271,"z":7.66,"c":0.3},{"v":281,"z":7.66,"c":0.3},{"v":292,"z":7.66,"c":0.3},{"v":302,"z":7.66,"c":0.3},{"v":312,"z":7.66,"c":0.33},{"v":322,"z":7.66,"c":0.6},{"v":332,"z":7.66,"c":0.98},
{"v":57,"z":7.685,"c":1},{"v":67,"z":7.685,"c":1},{"v":77,"z":7.685,"c":1},{"v":88,"z":7.685,"c":1},{"v":98,"z":7.685,"c":1},{"v":108,"z":7.685,"c":1},{"v":118,"z":7.685,"c":1},{"v":128,"z":7.685,"c":1},{"v":139,"z":7.685,"c":1},{"v":149,"z":7.685,"c":1},{"v":159,"z":7.685,"c":1},{"v":169,"z":7.685,"c":1},{"v":179,"z":7.685,"c":0.99},{"v":190,"z":7.685,"c":0.7},{"v":200,"z":7.685,"c":0.36},{"v":210,"z":7.685,"c":0.34},{"v":220,"z":7.685,"c":0.34},{"v":230,"z":7.685,"c":0.34},{"v":241,"z":7.685,"c":0.35},{"v":251,"z":7.685,"c":0.35},{"v":261,"z":7.685,"c":0.36},{"v":271,"z":7.685,"c":0.36},{"v":281,"z":7.685,"c":0.37},{"v":292,"z":7.685,"c":0.38},{"v":302,"z":7.685,"c":0.38},{"v":312,"z":7.685,"c":0.38},{"v":322,"z":7.685,"c":0.95},{"v":332,"z":7.685,"c":0.98},{"v":343,"z":7.685,"c":0.98},{"v":353,"z":7.685,"c":0.8},
{"v":67,"z":7.71,"c":1},{"v":77,"z":7.71,"c":1},{"v":88,"z":7.71,"c":1},{"v":98,"z":7.71,"c":1},{"v":108,"z":7.71,"c":1},{"v":118,"z":7.71,"c":1},{"v":128,"z":7.71,"c":1},{"v":139,"z":7.71,"c":1},{"v":149,"z":7.71,"c":1},{"v":159,"z":7.71,"c":1},{"v":169,"z":7.71,"c":1},{"v":179,"z":7.71,"c":1},{"v":190,"z":7.71,"c":1},{"v":200,"z":7.71,"c":0.42},{"v":210,"z":7.71,"c":0.38},{"v":220,"z":7.71,"c":0.4},{"v":230,"z":7.71,"c":0.4},{"v":241,"z":7.71,"c":0.42},{"v":251,"z":7.71,"c":0.42},{"v":261,"z":7.71,"c":0.43},{"v":271,"z":7.71,"c":0.43},{"v":281,"z":7.71,"c":0.43},{"v":292,"z":7.71,"c":0.43},{"v":302,"z":7.71,"c":0.42},{"v":312,"z":7.71,"c":0.4},{"v":322,"z":7.71,"c":0.98},{"v":332,"z":7.71,"c":0.98},{"v":343,"z":7.71,"c":0.98},{"v":353,"z":7.71,"c":0.97},{"v":363,"z":7.71,"c":0.95},{"v":373,"z":7.71,"c":0.65},
{"v":67,"z":7.735,"c":1},{"v":77,"z":7.735,"c":1},{"v":88,"z":7.735,"c":1},{"v":98,"z":7.735,"c":1},{"v":108,"z":7.735,"c":1},{"v":118,"z":7.735,"c":1},{"v":128,"z":7.735,"c":1},{"v":139,"z":7.735,"c":1},{"v":149,"z":7.735,"c":1},{"v":159,"z":7.735,"c":1},{"v":169,"z":7.735,"c":1},{"v":179,"z":7.735,"c":1},{"v":190,"z":7.735,"c":1},{"v":200,"z":7.735,"c":1},{"v":210,"z":7.735,"c":0.45},{"v":220,"z":7.735,"c":0.5},{"v":230,"z":7.735,"c":0.55},{"v":241,"z":7.735,"c":0.55},{"v":251,"z":7.735,"c":0.52},{"v":261,"z":7.735,"c":0.5},{"v":271,"z":7.735,"c":0.5},{"v":281,"z":7.735,"c":0.48},{"v":292,"z":7.735,"c":0.46},{"v":302,"z":7.735,"c":0.44},{"v":312,"z":7.735,"c":0.4},{"v":322,"z":7.735,"c":0.98},{"v":332,"z":7.735,"c":0.98},{"v":343,"z":7.735,"c":0.98},{"v":353,"z":7.735,"c":0.98},{"v":363,"z":7.735,"c":0.96},{"v":373,"z":7.735,"c":0.9},{"v":383,"z":7.735,"c":0.75},
{"v":77,"z":7.76,"c":1},{"v":88,"z":7.76,"c":1},{"v":98,"z":7.76,"c":1},{"v":108,"z":7.76,"c":1},{"v":118,"z":7.76,"c":1},{"v":128,"z":7.76,"c":1},{"v":139,"z":7.76,"c":1},{"v":149,"z":7.76,"c":1},{"v":159,"z":7.76,"c":1},{"v":169,"z":7.76,"c":1},{"v":179,"z":7.76,"c":1},{"v":190,"z":7.76,"c":1},{"v":200,"z":7.76,"c":1},{"v":210,"z":7.76,"c":1},{"v":220,"z":7.76,"c":0.75},{"v":230,"z":7.76,"c":0.5},{"v":241,"z":7.76,"c":0.6},{"v":251,"z":7.76,"c":0.58},{"v":261,"z":7.76,"c":0.55},{"v":271,"z":7.76,"c":0.54},{"v":281,"z":7.76,"c":0.52},{"v":292,"z":7.76,"c":0.5},{"v":302,"z":7.76,"c":0.47},{"v":312,"z":7.76,"c":0.4},{"v":322,"z":7.76,"c":0.98},{"v":332,"z":7.76,"c":0.98},{"v":343,"z":7.76,"c":0.98},{"v":353,"z":7.76,"c":0.98},{"v":363,"z":7.76,"c":0.97},{"v":373,"z":7.76,"c":0.95},
{"v":88,"z":7.785,"c":0.99},{"v":98,"z":7.785,"c":1},{"v":108,"z":7.785,"c":1},{"v":118,"z":7.785,"c":1},{"v":128,"z":7.785,"c":1},{"v":139,"z":7.785,"c":1},{"v":149,"z":7.785,"c":1},{"v":159,"z":7.785,"c":1},{"v":169,"z":7.785,"c":1},{"v":179,"z":7.785,"c":1},{"v":190,"z":7.785,"c":1},{"v":200,"z":7.785,"c":1},{"v":210,"z":7.785,"c":1},{"v":220,"z":7.785,"c":1},{"v":230,"z":7.785,"c":0.95},{"v":241,"z":7.785,"c":0.48},{"v":251,"z":7.785,"c":0.62},{"v":261,"z":7.785,"c":0.6},{"v":271,"z":7.785,"c":0.58},{"v":281,"z":7.785,"c":0.56},{"v":292,"z":7.785,"c":0.53},{"v":302,"z":7.785,"c":0.5},{"v":312,"z":7.785,"c":0.4},{"v":322,"z":7.785,"c":0.98},{"v":332,"z":7.785,"c":0.98},{"v":343,"z":7.785,"c":0.98},{"v":353,"z":7.785,"c":0.98},{"v":363,"z":7.785,"c":0.97},
{"v":88,"z":7.81,"c":0.85},{"v":98,"z":7.81,"c":1},{"v":108,"z":7.81,"c":1},{"v":118,"z":7.81,"c":1},{"v":128,"z":7.81,"c":1},{"v":139,"z":7.81,"c":1},{"v":149,"z":7.81,"c":1},{"v":159,"z":7.81,"c":1},{"v":169,"z":7.81,"c":1},{"v":179,"z":7.81,"c":1},{"v":190,"z":7.81,"c":1},{"v":200,"z":7.81,"c":1},{"v":210,"z":7.81,"c":1},{"v":220,"z":7.81,"c":1},{"v":230,"z":7.81,"c":1},{"v":241,"z":7.81,"c":0.98},{"v":251,"z":7.81,"c":0.5},{"v":261,"z":7.81,"c":0.62},{"v":271,"z":7.81,"c":0.6},{"v":281,"z":7.81,"c":0.58},{"v":292,"z":7.81,"c":0.56},{"v":302,"z":7.81,"c":0.52},{"v":312,"z":7.81,"c":0.42},{"v":322,"z":7.81,"c":0.98},{"v":332,"z":7.81,"c":0.98},{"v":343,"z":7.81,"c":0.98},{"v":353,"z":7.81,"c":0.97},{"v":363,"z":7.81,"c":0.85},
{"v":98,"z":7.835,"c":1},{"v":108,"z":7.835,"c":1},{"v":118,"z":7.835,"c":1},{"v":128,"z":7.835,"c":1},{"v":139,"z":7.835,"c":1},{"v":149,"z":7.835,"c":1},{"v":159,"z":7.835,"c":1},{"v":169,"z":7.835,"c":1},{"v":179,"z":7.835,"c":1},{"v":190,"z":7.835,"c":1},{"v":200,"z":7.835,"c":1},{"v":210,"z":7.835,"c":1},{"v":220,"z":7.835,"c":1},{"v":230,"z":7.835,"c":1},{"v":241,"z":7.835,"c":1},{"v":251,"z":7.835,"c":1},{"v":261,"z":7.835,"c":0.52},{"v":271,"z":7.835,"c":0.65},{"v":281,"z":7.835,"c":0.62},{"v":292,"z":7.835,"c":0.6},{"v":302,"z":7.835,"c":0.56},{"v":312,"z":7.835,"c":0.42},{"v":322,"z":7.835,"c":0.98},{"v":332,"z":7.835,"c":0.98},{"v":343,"z":7.835,"c":0.98},{"v":353,"z":7.835,"c":0.97},{"v":363,"z":7.835,"c":0.7},
{"v":98,"z":7.86,"c":1},{"v":108,"z":7.86,"c":1},{"v":118,"z":7.86,"c":1},{"v":128,"z":7.86,"c":1},{"v":139,"z":7.86,"c":1},{"v":149,"z":7.86,"c":1},{"v":159,"z":7.86,"c":1},{"v":169,"z":7.86,"c":1},{"v":179,"z":7.86,"c":1},{"v":190,"z":7.86,"c":1},{"v":200,"z":7.86,"c":1},{"v":210,"z":7.86,"c":1},{"v":220,"z":7.86,"c":1},{"v":230,"z":7.86,"c":1},{"v":241,"z":7.86,"c":1},{"v":251,"z":7.86,"c":1},{"v":261,"z":7.86,"c":0.9},{"v":271,"z":7.86,"c":0.55},{"v":281,"z":7.86,"c":0.67},{"v":292,"z":7.86,"c":0.65},{"v":302,"z":7.86,"c":0.6},{"v":312,"z":7.86,"c":0.42},{"v":322,"z":7.86,"c":0.98},{"v":332,"z":7.86,"c":0.98},{"v":343,"z":7.86,"c":0.98},{"v":353,"z":7.86,"c":0.95},
{"v":108,"z":7.885,"c":1},{"v":118,"z":7.885,"c":1},{"v":128,"z":7.885,"c":1},{"v":139,"z":7.885,"c":1},{"v":149,"z":7.885,"c":1},{"v":159,"z":7.885,"c":1},{"v":169,"z":7.885,"c":1},{"v":179,"z":7.885,"c":1},{"v":190,"z":7.885,"c":1},{"v":200,"z":7.885,"c":1},{"v":210,"z":7.885,"c":1},{"v":220,"z":7.885,"c":1},{"v":230,"z":7.885,"c":1},{"v":241,"z":7.885,"c":1},{"v":251,"z":7.885,"c":1},{"v":261,"z":7.885,"c":1},{"v":271,"z":7.885,"c":0.95},{"v":281,"z":7.885,"c":0.6},{"v":292,"z":7.885,"c":0.68},{"v":302,"z":7.885,"c":0.62},{"v":312,"z":7.885,"c":0.4},{"v":322,"z":7.885,"c":0.98},{"v":332,"z":7.885,"c":0.98},{"v":343,"z":7.885,"c":0.98},{"v":353,"z":7.885,"c":0.6},
{"v":108,"z":7.91,"c":1},{"v":118,"z":7.91,"c":1},{"v":128,"z":7.91,"c":1},{"v":139,"z":7.91,"c":1},{"v":149,"z":7.91,"c":1},{"v":159,"z":7.91,"c":1},{"v":169,"z":7.91,"c":1},{"v":179,"z":7.91,"c":1},{"v":190,"z":7.91,"c":1},{"v":200,"z":7.91,"c":1},{"v":210,"z":7.91,"c":1},{"v":220,"z":7.91,"c":1},{"v":230,"z":7.91,"c":1},{"v":241,"z":7.91,"c":1},{"v":251,"z":7.91,"c":1},{"v":261,"z":7.91,"c":1},{"v":271,"z":7.91,"c":1},{"v":281,"z":7.91,"c":1},{"v":292,"z":7.91,"c":0.6},{"v":302,"z":7.91,"c":0.6},{"v":312,"z":7.91,"c":0.35},{"v":322,"z":7.91,"c":0.98},{"v":332,"z":7.91,"c":0.98},{"v":343,"z":7.91,"c":0.95},
{"v":118,"z":7.935,"c":1},{"v":128,"z":7.935,"c":1},{"v":139,"z":7.935,"c":1},{"v":149,"z":7.935,"c":1},{"v":159,"z":7.935,"c":1},{"v":169,"z":7.935,"c":1},{"v":179,"z":7.935,"c":1},{"v":190,"z":7.935,"c":1},{"v":200,"z":7.935,"c":1},{"v":210,"z":7.935,"c":1},{"v":220,"z":7.935,"c":1},{"v":230,"z":7.935,"c":1},{"v":241,"z":7.935,"c":1},{"v":251,"z":7.935,"c":1},{"v":261,"z":7.935,"c":1},{"v":271,"z":7.935,"c":1},{"v":281,"z":7.935,"c":1},{"v":292,"z":7.935,"c":0.99},{"v":302,"z":7.935,"c":0.4},{"v":312,"z":7.935,"c":0.42},{"v":322,"z":7.935,"c":0.45},{"v":332,"z":7.935,"c":0.95},{"v":343,"z":7.935,"c":0.95},
{"v":118,"z":7.96,"c":1},{"v":128,"z":7.96,"c":1},{"v":139,"z":7.96,"c":1},{"v":149,"z":7.96,"c":1},{"v":159,"z":7.96,"c":1},{"v":169,"z":7.96,"c":1},{"v":179,"z":7.96,"c":1},{"v":190,"z":7.96,"c":1},{"v":200,"z":7.96,"c":1},{"v":210,"z":7.96,"c":1},{"v":220,"z":7.96,"c":1},{"v":230,"z":7.96,"c":1},{"v":241,"z":7.96,"c":1},{"v":251,"z":7.96,"c":1},{"v":261,"z":7.96,"c":1},{"v":271,"z":7.96,"c":1},{"v":281,"z":7.96,"c":1},{"v":292,"z":7.96,"c":1},{"v":302,"z":7.96,"c":0.97},{"v":312,"z":7.96,"c":0.75},{"v":322,"z":7.96,"c":0.9},{"v":332,"z":7.96,"c":0.95},{"v":343,"z":7.96,"c":0.9},
{"v":128,"z":7.985,"c":0.72},{"v":139,"z":7.985,"c":1},{"v":149,"z":7.985,"c":1},{"v":159,"z":7.985,"c":1},{"v":169,"z":7.985,"c":1},{"v":179,"z":7.985,"c":1},{"v":190,"z":7.985,"c":1},{"v":200,"z":7.985,"c":1},{"v":210,"z":7.985,"c":1},{"v":220,"z":7.985,"c":1},{"v":230,"z":7.985,"c":1},{"v":241,"z":7.985,"c":1},{"v":251,"z":7.985,"c":1},{"v":261,"z":7.985,"c":1},{"v":271,"z":7.985,"c":1},{"v":281,"z":7.985,"c":1},{"v":292,"z":7.985,"c":1},{"v":302,"z":7.985,"c":1},{"v":322,"z":7.985,"c":0.8},{"v":332,"z":7.985,"c":0.95},{"v":343,"z":7.985,"c":0.92},{"v":353,"z":7.985,"c":0.85},{"v":363,"z":7.985,"c":0.78},{"v":373,"z":7.985,"c":0.72},
{"v":139,"z":8.01,"c":0.99},{"v":149,"z":8.01,"c":1},{"v":159,"z":8.01,"c":1},{"v":169,"z":8.01,"c":1},{"v":179,"z":8.01,"c":1},{"v":190,"z":8.01,"c":1},{"v":200,"z":8.01,"c":1},{"v":210,"z":8.01,"c":1},{"v":220,"z":8.01,"c":1},{"v":230,"z":8.01,"c":1},{"v":241,"z":8.01,"c":1},{"v":251,"z":8.01,"c":1},{"v":261,"z":8.01,"c":1},{"v":271,"z":8.01,"c":1},{"v":281,"z":8.01,"c":1},{"v":292,"z":8.01,"c":1},{"v":302,"z":8.01,"c":1},{"v":332,"z":8.01,"c":0.9},{"v":343,"z":8.01,"c":0.92},{"v":353,"z":8.01,"c":0.9},{"v":363,"z":8.01,"c":0.8},{"v":373,"z":8.01,"c":0.75},{"v":383,"z":8.01,"c":0.6},{"v":394,"z":8.01,"c":0.45},{"v":404,"z":8.01,"c":0.38},
{"v":139,"z":8.035,"c":1},{"v":149,"z":8.035,"c":1},{"v":159,"z":8.035,"c":1},{"v":169,"z":8.035,"c":1},{"v":179,"z":8.035,"c":1},{"v":190,"z":8.035,"c":1},{"v":200,"z":8.035,"c":1},{"v":210,"z":8.035,"c":1},{"v":220,"z":8.035,"c":1},{"v":230,"z":8.035,"c":1},{"v":241,"z":8.035,"c":1},{"v":251,"z":8.035,"c":1},{"v":261,"z":8.035,"c":1},{"v":271,"z":8.035,"c":1},{"v":281,"z":8.035,"c":1},{"v":292,"z":8.035,"c":0.99},{"v":302,"z":8.035,"c":0.99},{"v":312,"z":8.035,"c":0.97},{"v":322,"z":8.035,"c":0.85},{"v":343,"z":8.035,"c":0.65},{"v":353,"z":8.035,"c":0.7},{"v":363,"z":8.035,"c":0.65},{"v":373,"z":8.035,"c":0.55},{"v":383,"z":8.035,"c":0.42},
{"v":149,"z":8.06,"c":1},{"v":159,"z":8.06,"c":1},{"v":169,"z":8.06,"c":1},{"v":179,"z":8.06,"c":1},{"v":190,"z":8.06,"c":1},{"v":200,"z":8.06,"c":1},{"v":210,"z":8.06,"c":1},{"v":220,"z":8.06,"c":1},{"v":230,"z":8.06,"c":1},{"v":241,"z":8.06,"c":1},{"v":251,"z":8.06,"c":1},{"v":261,"z":8.06,"c":1},{"v":271,"z":8.06,"c":0.99},{"v":281,"z":8.06,"c":0.99},{"v":292,"z":8.06,"c":0.98},{"v":302,"z":8.06,"c":0.98},{"v":312,"z":8.06,"c":0.98},{"v":322,"z":8.06,"c":0.95},{"v":332,"z":8.06,"c":0.93},{"v":343,"z":8.06,"c":0.72},
{"v":149,"z":8.085,"c":1},{"v":159,"z":8.085,"c":1},{"v":169,"z":8.085,"c":1},{"v":179,"z":8.085,"c":1},{"v":190,"z":8.085,"c":1},{"v":200,"z":8.085,"c":1},{"v":210,"z":8.085,"c":1},{"v":220,"z":8.085,"c":1},{"v":230,"z":8.085,"c":1},{"v":241,"z":8.085,"c":1},{"v":251,"z":8.085,"c":0.99},{"v":261,"z":8.085,"c":0.99},{"v":271,"z":8.085,"c":0.99},{"v":281,"z":8.085,"c":0.98},{"v":292,"z":8.085,"c":0.98},{"v":302,"z":8.085,"c":0.98},{"v":312,"z":8.085,"c":0.97},{"v":322,"z":8.085,"c":0.97},{"v":332,"z":8.085,"c":0.96},{"v":343,"z":8.085,"c":0.95},{"v":353,"z":8.085,"c":0.75},
{"v":159,"z":8.11,"c":1},{"v":169,"z":8.11,"c":1},{"v":179,"z":8.11,"c":1},{"v":190,"z":8.11,"c":1},{"v":200,"z":8.11,"c":1},{"v":210,"z":8.11,"c":1},{"v":220,"z":8.11,"c":1},{"v":230,"z":8.11,"c":1},{"v":241,"z":8.11,"c":0.99},{"v":251,"z":8.11,"c":0.99},{"v":261,"z":8.11,"c":0.99},{"v":271,"z":8.11,"c":0.98},{"v":281,"z":8.11,"c":0.98},{"v":292,"z":8.11,"c":0.98},{"v":302,"z":8.11,"c":0.97},{"v":312,"z":8.11,"c":0.97},{"v":322,"z":8.11,"c":0.97},{"v":332,"z":8.11,"c":0.96},{"v":343,"z":8.11,"c":0.95},{"v":353,"z":8.11,"c":0.8},
{"v":159,"z":8.135,"c":1},{"v":169,"z":8.135,"c":1},{"v":179,"z":8.135,"c":1},{"v":190,"z":8.135,"c":1},{"v":200,"z":8.135,"c":1},{"v":210,"z":8.135,"c":1},{"v":220,"z":8.135,"c":1},{"v":230,"z":8.135,"c":0.99},{"v":241,"z":8.135,"c":0.99},{"v":251,"z":8.135,"c":0.98},{"v":261,"z":8.135,"c":0.98},{"v":271,"z":8.135,"c":0.98},{"v":281,"z":8.135,"c":0.98},{"v":292,"z":8.135,"c":0.97},{"v":302,"z":8.135,"c":0.97},{"v":312,"z":8.135,"c":0.97},{"v":322,"z":8.135,"c":0.96},{"v":332,"z":8.135,"c":0.96},{"v":343,"z":8.135,"c":0.95},{"v":353,"z":8.135,"c":0.72},
{"v":169,"z":8.16,"c":1},{"v":179,"z":8.16,"c":1},{"v":190,"z":8.16,"c":1},{"v":200,"z":8.16,"c":1},{"v":210,"z":8.16,"c":1},{"v":220,"z":8.16,"c":0.99},{"v":230,"z":8.16,"c":0.99},{"v":241,"z":8.16,"c":0.98},{"v":251,"z":8.16,"c":0.98},{"v":261,"z":8.16,"c":0.98},{"v":271,"z":8.16,"c":0.97},{"v":281,"z":8.16,"c":0.97},{"v":292,"z":8.16,"c":0.97},{"v":302,"z":8.16,"c":0.96},{"v":312,"z":8.16,"c":0.96},{"v":322,"z":8.16,"c":0.96},{"v":332,"z":8.16,"c":0.95},{"v":343,"z":8.16,"c":0.8},
{"v":169,"z":8.185,"c":0.72},{"v":179,"z":8.185,"c":1},{"v":190,"z":8.185,"c":1},{"v":200,"z":8.185,"c":1},{"v":210,"z":8.185,"c":0.99},{"v":220,"z":8.185,"c":0.99},{"v":230,"z":8.185,"c":0.98},{"v":241,"z":8.185,"c":0.98},{"v":251,"z":8.185,"c":0.97},{"v":261,"z":8.185,"c":0.97},{"v":271,"z":8.185,"c":0.97},{"v":281,"z":8.185,"c":0.97},{"v":292,"z":8.185,"c":0.96},{"v":302,"z":8.185,"c":0.96},{"v":312,"z":8.185,"c":0.96},{"v":322,"z":8.185,"c":0.95},{"v":332,"z":8.185,"c":0.95},{"v":343,"z":8.185,"c":0.25},
{"v":179,"z":8.21,"c":0.98},{"v":190,"z":8.21,"c":0.98},{"v":200,"z":8.21,"c":0.97},{"v":210,"z":8.21,"c":0.97},{"v":220,"z":8.21,"c":0.97},{"v":230,"z":8.21,"c":0.97},{"v":241,"z":8.21,"c":0.97},{"v":251,"z":8.21,"c":0.97},{"v":261,"z":8.21,"c":0.96},{"v":271,"z":8.21,"c":0.96},{"v":281,"z":8.21,"c":0.96},{"v":292,"z":8.21,"c":0.96},{"v":302,"z":8.21,"c":0.96},{"v":312,"z":8.21,"c":0.95},{"v":322,"z":8.21,"c":0.95},{"v":332,"z":8.21,"c":0.92},{"v":343,"z":8.21,"c":0.8},
{"v":179,"z":8.235,"c":0.95},{"v":190,"z":8.235,"c":0.97},{"v":200,"z":8.235,"c":0.97},{"v":210,"z":8.235,"c":0.97},{"v":220,"z":8.235,"c":0.96},{"v":230,"z":8.235,"c":0.96},{"v":241,"z":8.235,"c":0.96},{"v":251,"z":8.235,"c":0.96},{"v":261,"z":8.235,"c":0.96},{"v":271,"z":8.235,"c":0.96},{"v":281,"z":8.235,"c":0.96},{"v":292,"z":8.235,"c":0.96},{"v":302,"z":8.235,"c":0.95},{"v":312,"z":8.235,"c":0.95},{"v":322,"z":8.235,"c":0.95},{"v":332,"z":8.235,"c":0.95},{"v":343,"z":8.235,"c":0.9},
{"v":190,"z":8.26,"c":0.9},{"v":200,"z":8.26,"c":0.96},{"v":210,"z":8.26,"c":0.96},{"v":220,"z":8.26,"c":0.96},{"v":230,"z":8.26,"c":0.96},{"v":241,"z":8.26,"c":0.96},{"v":251,"z":8.26,"c":0.96},{"v":261,"z":8.26,"c":0.96},{"v":271,"z":8.26,"c":0.96},{"v":281,"z":8.26,"c":0.95},{"v":292,"z":8.26,"c":0.95},{"v":302,"z":8.26,"c":0.95},{"v":312,"z":8.26,"c":0.95},{"v":322,"z":8.26,"c":0.95},{"v":332,"z":8.26,"c":0.85},
{"v":190,"z":8.285,"c":0.95},{"v":200,"z":8.285,"c":0.96},{"v":210,"z":8.285,"c":0.96},{"v":220,"z":8.285,"c":0.95},{"v":230,"z":8.285,"c":0.95},{"v":241,"z":8.285,"c":0.95},{"v":251,"z":8.285,"c":0.95},{"v":261,"z":8.285,"c":0.95},{"v":271,"z":8.285,"c":0.95},{"v":281,"z":8.285,"c":0.95},{"v":292,"z":8.285,"c":0.95},{"v":302,"z":8.285,"c":0.95},{"v":312,"z":8.285,"c":0.95},{"v":322,"z":8.285,"c":0.94},{"v":332,"z":8.285,"c":0.85},
{"v":190,"z":8.31,"c":0.9},{"v":200,"z":8.31,"c":0.95},{"v":210,"z":8.31,"c":0.95},{"v":220,"z":8.31,"c":0.95},{"v":230,"z":8.31,"c":0.95},{"v":241,"z":8.31,"c":0.95},{"v":251,"z":8.31,"c":0.95},{"v":261,"z":8.31,"c":0.95},{"v":271,"z":8.31,"c":0.95},{"v":281,"z":8.31,"c":0.94},{"v":292,"z":8.31,"c":0.94},{"v":302,"z":8.31,"c":0.94},{"v":312,"z":8.31,"c":0.94},{"v":322,"z":8.31,"c":0.92},
{"v":190,"z":8.335,"c":0.85},{"v":200,"z":8.335,"c":0.93},{"v":210,"z":8.335,"c":0.94},{"v":220,"z":8.335,"c":0.94},{"v":230,"z":8.335,"c":0.94},{"v":241,"z":8.335,"c":0.94},{"v":251,"z":8.335,"c":0.94},{"v":261,"z":8.335,"c":0.94},{"v":271,"z":8.335,"c":0.94},{"v":281,"z":8.335,"c":0.93},{"v":292,"z":8.335,"c":0.93},{"v":302,"z":8.335,"c":0.93},{"v":312,"z":8.335,"c":0.92},{"v":322,"z":8.335,"c":0.75},
{"v":200,"z":8.36,"c":0.72},{"v":210,"z":8.36,"c":0.93},{"v":220,"z":8.36,"c":0.93},{"v":230,"z":8.36,"c":0.93},{"v":241,"z":8.36,"c":0.93},{"v":251,"z":8.36,"c":0.93},{"v":261,"z":8.36,"c":0.93},{"v":271,"z":8.36,"c":0.93},{"v":281,"z":8.36,"c":0.92},{"v":292,"z":8.36,"c":0.92},{"v":302,"z":8.36,"c":0.92},{"v":312,"z":8.36,"c":0.92},{"v":322,"z":8.36,"c":0.9},
{"v":200,"z":8.385,"c":0.9},{"v":210,"z":8.385,"c":0.92},{"v":220,"z":8.385,"c":0.92},{"v":230,"z":8.385,"c":0.92},{"v":241,"z":8.385,"c":0.92},{"v":251,"z":8.385,"c":0.92},{"v":261,"z":8.385,"c":0.92},{"v":271,"z":8.385,"c":0.92},{"v":281,"z":8.385,"c":0.91},{"v":292,"z":8.385,"c":0.91},{"v":302,"z":8.385,"c":0.9},{"v":312,"z":8.385,"c":0.9},{"v":322,"z":8.385,"c":0.88},{"v":332,"z":8.385,"c":0.86},{"v":343,"z":8.385,"c":0.85},{"v":353,"z":8.385,"c":0.82},{"v":363,"z":8.385,"c":0.78},{"v":373,"z":8.385,"c":0.72},
{"v":200,"z":8.41,"c":0.85},{"v":210,"z":8.41,"c":0.9},{"v":220,"z":8.41,"c":0.91},{"v":230,"z":8.41,"c":0.91},{"v":241,"z":8.41,"c":0.91},{"v":251,"z":8.41,"c":0.91},{"v":261,"z":8.41,"c":0.9},{"v":271,"z":8.41,"c":0.9},{"v":281,"z":8.41,"c":0.9},{"v":292,"z":8.41,"c":0.89},{"v":302,"z":8.41,"c":0.88},{"v":312,"z":8.41,"c":0.87},{"v":322,"z":8.41,"c":0.86},{"v":332,"z":8.41,"c":0.85},{"v":343,"z":8.41,"c":0.82},{"v":353,"z":8.41,"c":0.78},{"v":363,"z":8.41,"c":0.75},{"v":373,"z":8.41,"c":0.72},{"v":383,"z":8.41,"c":0.36},
{"v":200,"z":8.435,"c":0.4},{"v":210,"z":8.435,"c":0.88},{"v":220,"z":8.435,"c":0.9},{"v":230,"z":8.435,"c":0.9},{"v":241,"z":8.435,"c":0.9},{"v":251,"z":8.435,"c":0.9},{"v":261,"z":8.435,"c":0.9},{"v":271,"z":8.435,"c":0.88},{"v":281,"z":8.435,"c":0.88},{"v":292,"z":8.435,"c":0.87},{"v":302,"z":8.435,"c":0.86},{"v":312,"z":8.435,"c":0.84},{"v":322,"z":8.435,"c":0.82},{"v":332,"z":8.435,"c":0.8},{"v":343,"z":8.435,"c":0.78},{"v":353,"z":8.435,"c":0.75},{"v":363,"z":8.435,"c":0.72},{"v":373,"z":8.435,"c":0.2},
{"v":210,"z":8.46,"c":0.88},{"v":220,"z":8.46,"c":0.88},{"v":230,"z":8.46,"c":0.88},{"v":241,"z":8.46,"c":0.87},{"v":251,"z":8.46,"c":0.87},{"v":261,"z":8.46,"c":0.87},{"v":271,"z":8.46,"c":0.85},{"v":281,"z":8.46,"c":0.85},{"v":292,"z":8.46,"c":0.84},{"v":302,"z":8.46,"c":0.82},{"v":312,"z":8.46,"c":0.82},{"v":322,"z":8.46,"c":0.8},{"v":332,"z":8.46,"c":0.78},{"v":343,"z":8.46,"c":0.76},{"v":353,"z":8.46,"c":0.72},{"v":363,"z":8.46,"c":0.38},
{"v":210,"z":8.485,"c":0.85},{"v":220,"z":8.485,"c":0.87},{"v":230,"z":8.485,"c":0.86},{"v":241,"z":8.485,"c":0.85},{"v":251,"z":8.485,"c":0.85},{"v":261,"z":8.485,"c":0.84},{"v":271,"z":8.485,"c":0.84},{"v":281,"z":8.485,"c":0.82},{"v":292,"z":8.485,"c":0.82},{"v":302,"z":8.485,"c":0.8},{"v":312,"z":8.485,"c":0.8},{"v":322,"z":8.485,"c":0.78},{"v":332,"z":8.485,"c":0.76},{"v":343,"z":8.485,"c":0.72},{"v":353,"z":8.485,"c":0.2},
{"v":210,"z":8.51,"c":0.85},{"v":220,"z":8.51,"c":0.84},{"v":230,"z":8.51,"c":0.84},{"v":241,"z":8.51,"c":0.83},{"v":251,"z":8.51,"c":0.82},{"v":261,"z":8.51,"c":0.82},{"v":271,"z":8.51,"c":0.82},{"v":281,"z":8.51,"c":0.8},{"v":292,"z":8.51,"c":0.8},{"v":302,"z":8.51,"c":0.78},{"v":312,"z":8.51,"c":0.76},{"v":322,"z":8.51,"c":0.72},{"v":332,"z":8.51,"c":0.6},{"v":343,"z":8.51,"c":0.15},
{"v":210,"z":8.535,"c":0.8},{"v":220,"z":8.535,"c":0.8},{"v":230,"z":8.535,"c":0.8},{"v":241,"z":8.535,"c":0.78},{"v":251,"z":8.535,"c":0.78},{"v":261,"z":8.535,"c":0.78},{"v":271,"z":8.535,"c":0.78},{"v":281,"z":8.535,"c":0.76},{"v":292,"z":8.535,"c":0.76},{"v":302,"z":8.535,"c":0.72},{"v":312,"z":8.535,"c":0.65},{"v":322,"z":8.535,"c":0.45},{"v":332,"z":8.535,"c":0.15},
{"v":210,"z":8.56,"c":0.3},{"v":220,"z":8.56,"c":0.78},{"v":230,"z":8.56,"c":0.76},{"v":241,"z":8.56,"c":0.75},{"v":251,"z":8.56,"c":0.76},{"v":261,"z":8.56,"c":0.74},{"v":271,"z":8.56,"c":0.74},{"v":281,"z":8.56,"c":0.72},{"v":292,"z":8.56,"c":0.62},{"v":302,"z":8.56,"c":0.45},{"v":312,"z":8.56,"c":0.2},
{"v":220,"z":8.585,"c":0.72},{"v":230,"z":8.585,"c":0.8},{"v":241,"z":8.585,"c":0.62},{"v":251,"z":8.585,"c":0.68},{"v":261,"z":8.585,"c":0.72},{"v":271,"z":8.585,"c":0.62},{"v":281,"z":8.585,"c":0.6},{"v":292,"z":8.585,"c":0.4},
{"v":220,"z":8.61,"c":0.65},{"v":230,"z":8.61,"c":0.62},{"v":241,"z":8.61,"c":0.78},{"v":251,"z":8.61,"c":0.48},{"v":261,"z":8.61,"c":0.42},{"v":271,"z":8.61,"c":0.55},{"v":281,"z":8.61,"c":0.42},{"v":292,"z":8.61,"c":0.35},
{"v":220,"z":8.635,"c":0.6},{"v":230,"z":8.635,"c":0.55},{"v":241,"z":8.635,"c":0.42},{"v":251,"z":8.635,"c":0.4},{"v":261,"z":8.635,"c":0.35},{"v":271,"z":8.635,"c":0.4},{"v":281,"z":8.635,"c":0.32},{"v":292,"z":8.635,"c":0.35},{"v":302,"z":8.635,"c":0.25},
{"v":230,"z":8.66,"c":0.42},{"v":241,"z":8.66,"c":0.48},{"v":251,"z":8.66,"c":0.32},{"v":261,"z":8.66,"c":0.6},{"v":271,"z":8.66,"c":0.35},{"v":281,"z":8.66,"c":0.28},{"v":292,"z":8.66,"c":0.2},
{"v":230,"z":8.685,"c":0.38},{"v":241,"z":8.685,"c":0.4},{"v":251,"z":8.685,"c":0.38},{"v":261,"z":8.685,"c":0.3},{"v":271,"z":8.685,"c":0.3},{"v":281,"z":8.685,"c":0.22},{"v":292,"z":8.685,"c":0.15}
],
"k1":[{"c":-6.75},{"c":-6.67},{"c":-6.58},{"c":-6.5},{"c":-6.42},{"c":-6.33},{"c":-6.25},{"c":-6.17},{"c":-6.08},{"c":-6},{"c":-5.92},{"c":-5.83},{"c":-5.75},{"c":-5.67},{"c":-5.58},{"c":-5.5},{"c":-5.42},{"c":-5.33},{"c":-5.25},{"c":-5.17},{"c":-5.08},{"c":-5},{"c":-4.92},{"c":-4.83},{"c":-4.75},{"c":-4.67},{"c":-4.58},{"c":-4.5},{"c":-4.42},{"c":-4.33},{"c":-4.25},{"c":-4.17},{"c":-4.08},{"c":-4},{"c":-3.92},{"c":-3.83},{"c":-3.75},{"c":-3.67},{"c":-3.58},{"c":-3.5},{"c":-3.42},{"c":-3.33},{"c":-3.25},{"c":-3.17},{"c":-3.08},{"c":-3},{"c":-2.92},{"c":-2.83},{"c":-2.75},{"c":-2.67},{"c":-2.58},{"c":-2.5},{"c":-2.42},{"c":-2.33},{"c":-2.25},{"c":-2.17},{"c":-2.08},{"c":-2},{"c":-1.92},{"c":-1.83},{"c":-1.75},{"c":-1.67},{"c":-1.58},{"c":-1.5}],
"k2":[{"c":-6.75},{"c":-6.67},{"c":-6.58},{"c":-6.5},{"c":-6.42},{"c":-6.33},{"c":-6.25},{"c":-6.17},{"c":-6.08},{"c":-6},{"c":-5.92},{"c":-5.83},{"c":-5.75},{"c":-5.67},{"c":-5.58},{"c":-5.5},{"c":-5.42},{"c":-5.33},{"c":-5.25},{"c":-5.17},{"c":-5.08},{"c":-5},{"c":-4.92},{"c":-4.83},{"c":-4.75},{"c":-4.67},{"c":-4.58},{"c":-4.5},{"c":-4.42},{"c":-4.33},{"c":-4.25},{"c":-4.17},{"c":-4.08},{"c":-4},{"c":-3.92},{"c":-3.83},{"c":-3.75},{"c":-3.67},{"c":-3.58},{"c":-3.5},{"c":-3.42},{"c":-3.33},{"c":-3.25},{"c":-3.17},{"c":-3.08},{"c":-3},{"c":-2.92},{"c":-2.83},{"c":-2.75},{"c":-2.67},{"c":-2.58},{"c":-2.5},{"c":-2.42},{"c":-2.33},{"c":-2.25},{"c":-2.17},{"c":-2.08},{"c":-2},{"c":-1.92},{"c":-1.83},{"c":-1.75},{"c":-1.67},{"c":-1.58},{"c":-1.5},{"c":-1.42}],
"k3":[{"c":0.02},{"c":0.04},{"c":0.05},{"c":0.07},{"c":0.08},{"c":0.1},{"c":0.12},{"c":0.13},{"c":0.15},{"c":0.16},{"c":0.18},{"c":0.2},{"c":0.21},{"c":0.23},{"c":0.24},{"c":0.26},{"c":0.27},{"c":0.29},{"c":0.31},{"c":0.32},{"c":0.34},{"c":0.35},{"c":0.37},{"c":0.38},{"c":0.4},{"c":0.42},{"c":0.43},{"c":0.45},{"c":0.46},{"c":0.48},{"c":0.49},{"c":0.51},{"c":0.53},{"c":0.54},{"c":0.56},{"c":0.57},{"c":0.59},{"c":0.6},{"c":0.62},{"c":0.64},{"c":0.65},{"c":0.67},{"c":0.68},{"c":0.7},{"c":0.71},{"c":0.73},{"c":0.75},{"c":0.76},{"c":0.78},{"c":0.79},{"c":0.81},{"c":0.82},{"c":0.84},{"c":0.86},{"c":0.87},{"c":0.89},{"c":0.9},{"c":0.92},{"c":0.93},{"c":0.95},{"c":0.97},{"c":0.98},{"c":1}]
},
"hconcat":[
{"width":179.5,"height":204.5,"title":"Case 1","data":{"name":"a"},"mark":{"type":"rect","width":5,"height":5.5,"clip":true},"view":{"fill":"#0a0a0a"},"encoding":{"x":{"field":"v","type":"quantitative","scale":{"domain":[1,409],"nice":false,"zero":false},"axis":{"values":[100,200,300,400],"title":"v/km s⁻¹"}},"y":{"field":"z","type":"quantitative","scale":{"domain":[7.652,8.7],"nice":false,"zero":false},"axis":{"values":[7.7,7.8,7.9,8,8.1,8.2,8.3,8.4,8.5,8.6,8.7],"format":".1~f","title":"12 + log₁₀[N/H]"}},"color":{"field":"c","type":"quantitative","legend":null,"scale":{"domain":[-6.77,-4.8,-2.83,-1.51],"range":["#0b0000","#ff0000","#ffff00","#ffffff"],"interpolate":"rgb"}}}},
{"width":13.5,"height":204.5,"data":{"name":"k1"},"mark":{"type":"rect","width":14,"height":4.5,"clip":true},"encoding":{"x":{"value":6.5},"y":{"field":"c","type":"quantitative","scale":{"domain":[-6.77,-1.51],"nice":false,"zero":false},"axis":{"orient":"right","values":[-6.5,-6,-5.5,-5,-4.5,-4,-3.5,-3,-2.5,-2],"format":".1~f","title":"log₁₀(n₁)","titleAngle":270,"titlePadding":10}},"color":{"field":"c","type":"quantitative","legend":null,"scale":{"domain":[-6.77,-4.8,-2.83,-1.51],"range":["#0b0000","#ff0000","#ffff00","#ffffff"],"interpolate":"rgb"}}}},
{"width":59.5,"height":204.5,"data":{"values":[]},"mark":"rect","view":{"stroke":null},"encoding":{}},
{"width":179.5,"height":204.5,"title":"Case 2","data":{"name":"b"},"mark":{"type":"rect","width":5,"height":5.5,"clip":true},"view":{"fill":"#0a0a0a"},"encoding":{"x":{"field":"v","type":"quantitative","scale":{"domain":[1,409],"nice":false,"zero":false},"axis":{"values":[100,200,300,400],"title":"v/km s⁻¹"}},"y":{"field":"z","type":"quantitative","scale":{"domain":[7.652,8.7],"nice":false,"zero":false},"axis":{"values":[7.7,7.8,7.9,8,8.1,8.2,8.3,8.4,8.5,8.6,8.7],"format":".1~f","title":"12 + log₁₀[N/H]"}},"color":{"field":"c","type":"quantitative","legend":null,"scale":{"domain":[-6.8,-4.775,-2.75,-1.4],"range":["#0b0000","#ff0000","#ffff00","#ffffff"],"interpolate":"rgb"}}}},
{"width":13.5,"height":204.5,"data":{"name":"k2"},"mark":{"type":"rect","width":14,"height":4.5,"clip":true},"encoding":{"x":{"value":6.5},"y":{"field":"c","type":"quantitative","scale":{"domain":[-6.8,-1.4],"nice":false,"zero":false},"axis":{"orient":"right","values":[-6.5,-6,-5.5,-5,-4.5,-4,-3.5,-3,-2.5,-2,-1.5],"format":".1~f","title":"log₁₀(n₂)","titleAngle":270,"titlePadding":10}},"color":{"field":"c","type":"quantitative","legend":null,"scale":{"domain":[-6.8,-4.775,-2.75,-1.4],"range":["#0b0000","#ff0000","#ffff00","#ffffff"],"interpolate":"rgb"}}}},
{"width":58.5,"height":204.5,"data":{"values":[]},"mark":"rect","view":{"stroke":null},"encoding":{}},
{"width":179.5,"height":204.5,"title":"Difference","data":{"name":"d"},"mark":{"type":"rect","width":5,"height":5.5,"clip":true},"view":{"fill":"#0a0a0a"},"encoding":{"x":{"field":"v","type":"quantitative","scale":{"domain":[1,409],"nice":false,"zero":false},"axis":{"values":[100,200,300,400],"title":"v/km s⁻¹"}},"y":{"field":"z","type":"quantitative","scale":{"domain":[7.652,8.7],"nice":false,"zero":false},"axis":{"values":[7.7,7.8,7.9,8,8.1,8.2,8.3,8.4,8.5,8.6,8.7],"format":".1~f","title":"12 + log₁₀[N/H]"}},"color":{"field":"c","type":"quantitative","legend":null,"scale":{"domain":[0.011,0.382,0.753,1],"range":["#0b0000","#ff0000","#ffff00","#ffffff"],"interpolate":"rgb"}}}},
{"width":13.5,"height":204.5,"data":{"name":"k3"},"mark":{"type":"rect","width":14,"height":4.5,"clip":true},"encoding":{"x":{"value":6.5},"y":{"field":"c","type":"quantitative","scale":{"domain":[0.011,1],"nice":false,"zero":false},"axis":{"orient":"right","values":[0.1,0.2,0.3,0.4,0.5,0.6,0.7,0.8,0.9],"format":".1f","titleAngle":270,"titleAlign":"center","titlePadding":-12,"title":["|n₁ − n₂|","2 —————","n₁ + n₂ + 10⁻⁶"]}},"color":{"field":"c","type":"quantitative","legend":null,"scale":{"domain":[0.011,0.382,0.753,1],"range":["#0b0000","#ff0000","#ffff00","#ffffff"],"interpolate":"rgb"}}}}
]}
